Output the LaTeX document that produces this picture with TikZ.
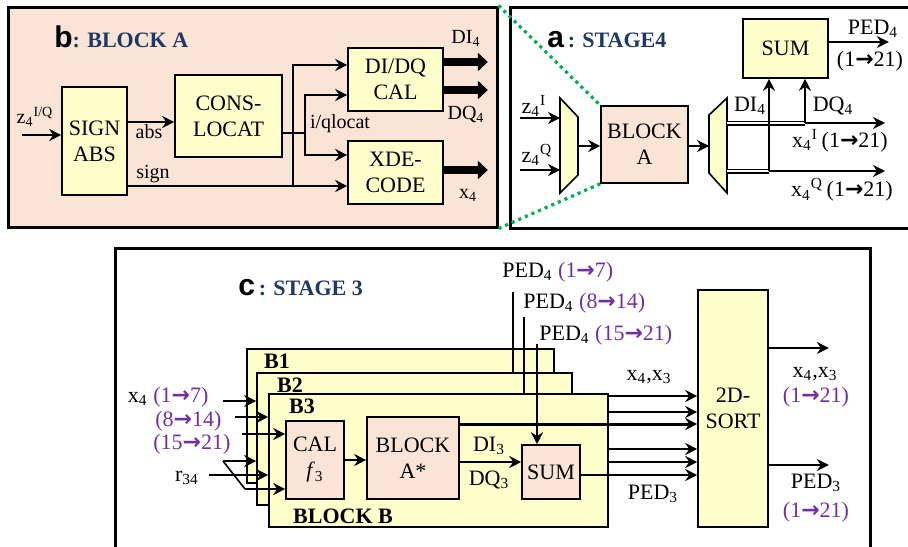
\documentclass[tikz,border=0pt]{standalone}
\usepackage{fontspec}
\setmainfont{Liberation Serif}
\newfontfamily\headsf{Liberation Sans}
\newfontfamily\arrfont{DejaVu Sans}
\usetikzlibrary{arrows.meta}
\definecolor{boxyel}{RGB}{255,255,204}
\definecolor{boxpch}{RGB}{250,228,213}
\definecolor{navy}{RGB}{31,56,100}
\definecolor{vio}{RGB}{112,48,160}
\definecolor{dotgrn}{RGB}{0,176,80}
\newcommand{\toarr}{{\arrfont\bfseries →}}
\newcommand{\subsup}[3]{#1\textsubscript{#2}\textsuperscript{#3}}
\newcommand{\hdr}[2]{{\headsf\bfseries\fontsize{15}{15}\selectfont #1}\textcolor{navy}{\bfseries\fontsize{11}{13}\selectfont #2}}
\begin{document}
\begin{tikzpicture}[x=0.5pt, y=-0.5pt,
    font=\fontsize{11}{13}\selectfont,
    ybox/.style={draw, line width=0.8pt, fill=boxyel, align=center, inner sep=0pt},
    pbox/.style={ybox, fill=boxpch},
    panel/.style={draw, line width=1.5pt, inner sep=0pt},
    arr/.style={line width=1.2pt, -{Stealth[length=6pt,width=6pt,inset=2pt]}},
    wire/.style={line width=1.2pt},
    bus/.style={line width=4pt, -{Triangle[length=5pt,width=9pt]}},
    dbl/.style={double, double distance=1.3pt, line width=0.6pt},
    zoomln/.style={dotgrn, line width=1.6pt, dotted},
    lab/.style={inner sep=0pt},
    small/.style={lab, font=\fontsize{10}{12}\selectfont},
    bold/.style={lab, font=\fontsize{11}{13}\selectfont\bfseries},
    ttl/.style={anchor=base west, inner sep=0pt}]
\useasboundingbox (0,0) rectangle (908,546);

% 图 b: BLOCK A
\node[panel, fill=boxpch, minimum width=244.5pt, minimum height=110pt] (pb) at (252.5,117) {};
\node[ttl] (tb) at (54,47) {\hdr{b}{: BLOCK A}};
\node[ybox, minimum width=32.5pt, minimum height=54pt] (sgn) at (94.5,141) {SIGN\\ABS};
\node[ybox, minimum width=53.5pt, minimum height=41pt] (cons) at (228.5,116) {CONS-\\LOCAT};
\node[ybox, minimum width=47.5pt, minimum height=31.5pt] (dqc) at (395.5,79.5) {DI/DQ\\CAL};
\node[ybox, minimum width=47.5pt, minimum height=31.5pt] (xde) at (395.5,172.5) {XDE-\\CODE};
% 连线
\coordinate (zin) at (22,135);
\draw[arr] (zin) -- (zin -| sgn.west);
\draw[arr] (sgn.east |- 0,122) -- (cons.west |- 0,122);
\draw[arr] (sgn.east |- 0,186) -- (xde.west |- 0,186);
\coordinate (jl) at (305,133);
\coordinate (js) at (293,186);
\draw[wire] (cons.east |- jl) -- (jl);
\draw[arr] (jl) |- (dqc.west |- 0,95);
\draw[arr] (jl) |- (xde.west |- 0,155);
\draw[arr] (js) |- (dqc.west |- 0,65);
% 总线输出
\draw[bus] (dqc.east |- 0,62) -- ++(44,0);
\draw[bus] (dqc.east |- 0,90) -- ++(44,0);
\draw[bus] (xde.east |- 0,170) -- ++(44,0);
% 标注
\node[small] (lz) at (35,117) {\subsup{z}{4}{I/Q}};
\node[small] (labs) at (149,132) {abs};
\node[small] (lsgn) at (153,174) {sign};
\node[small] (lloc) at (340,124) {i/qlocat};
\node[small] (ldi) at (466,38) {DI\textsubscript{4}};
\node[small] (ldq) at (466,114) {DQ\textsubscript{4}};
\node[small] (lx) at (468,195) {x\textsubscript{4}};

% 图 a: STAGE4
\node[panel, fill=white, minimum width=202.5pt, minimum height=110.5pt] (pa) at (712.5,117.5) {};
\node[ttl] (ta) at (547,47) {\hdr{a}{\,: STAGE4}};
\draw[line width=0.8pt, fill=boxyel] (560,98) -- (578,117) -- (578,175) -- (560,193) -- cycle;
\draw[line width=0.8pt, fill=boxyel] (709,115) -- (727,98) -- (727,193) -- (709,173) -- cycle;
\coordinate (mxl) at (560,146);
\coordinate (mxr) at (578,146);
\coordinate (dml) at (709,146);
\coordinate (dmr) at (727,146);
\node[pbox, minimum width=43.5pt, minimum height=38.5pt] (blka) at (644.5,144.5) {BLOCK\\A};
\node[ybox, minimum width=42.5pt, minimum height=29.5pt] (suma) at (785.5,48.5) {SUM};
\coordinate (zi) at (520,118);
\coordinate (zq) at (520,170);
\draw[arr] (zi) -- (zi -| mxl);
\draw[arr] (zq) -- (zq -| mxl);
\draw[arr] (mxr) -- (mxr -| blka.west);
\draw[arr] (blka.east |- dml) -- (dml);
% 双线与分支
\coordinate (dqj) at (805,123);
\coordinate (dij) at (769,171);
\draw[dbl] (dmr |- dqj) -- (dqj);
\draw[dbl] (dmr |- dij) -- (dij);
\draw[arr] (dqj) -- ++(80,0);
\draw[arr] (dij) -- ++(116,0);
\draw[arr] (dij) -- (dij |- suma.south);
\draw[arr] (dqj) -- (dqj |- suma.south);
\draw[arr] (suma.east |- 0,42) -- ++(60,0);
% 标注
\node[lab] (lped) at (873,29) {PED\textsubscript{4}};
\node[lab] (lrng) at (870,61) {(1\toarr21)};
\node[lab] (ldia) at (750,106) {DI\textsubscript{4}};
\node[lab] (ldqa) at (833,106) {DQ\textsubscript{4}};
\node[lab] (lxi) at (840,141) {\subsup{x}{4}{I}\,(1\toarr21)};
\node[lab] (lxq) at (842,190) {\subsup{x}{4}{Q}\,(1\toarr21)};
\node[lab] (lzi) at (534,106) {\subsup{z}{4}{I}};
\node[lab] (lzq) at (537,155) {\subsup{z}{4}{Q}};
% 放大虚线
\draw[zoomln] (pb.north east) -- (blka.north west);
\draw[zoomln] (pb.south east) -- (blka.south west);

% 图 c: STAGE 3
\node[panel, fill=white, minimum width=377.5pt, minimum height=151pt] (pc) at (492.5,399) {};
\node[ttl] (tc) at (238,295) {\hdr{c}{\,: STAGE 3}};
\node[ybox, minimum width=153.5pt, minimum height=67pt] (b1) at (400.5,416) {};
\node[ybox, minimum width=157.5pt, minimum height=66pt] (b2) at (414.5,439) {};
\node[ybox, minimum width=169.5pt, minimum height=66.5pt] (b3) at (438.5,460.5) {};
\node[bold] (lb1) at (277,361) {B1};
\node[bold] (lb2) at (290,385) {B2};
\node[bold] (lb3) at (302,406) {B3};
\node[bold] (lbb) at (343,516) {BLOCK B};
\node[pbox, minimum width=29pt, minimum height=39pt] (cal) at (315,460) {CAL\\\textit{f}\textsubscript{3}};
\node[pbox, minimum width=46pt, minimum height=41pt] (blks) at (413,458) {BLOCK\\A*};
\node[pbox, minimum width=29pt, minimum height=27pt] (sumc) at (551,472) {SUM};
\node[ybox, minimum width=35pt, minimum height=118.5pt] (sort) at (733,408.5) {2D-\\SORT};
% 内部连线
\draw[arr] (cal.east) -- (cal.east -| blks.west);
\draw[arr] (blks.east |- 0,462) -- (sumc.west |- 0,462);
\draw[arr, line width=1.5pt] (blks.east |- 0,424) -- (sort.west |- 0,424);
\draw[arr] (sumc.east |- 0,475) -- (sort.west |- 0,475);
\draw[arr] (b3.east |- 0,396) -- (sort.west |- 0,396);
\draw[arr] (b3.east |- 0,412) -- (sort.west |- 0,412);
\draw[arr] (b3.east |- 0,449) -- (sort.west |- 0,449);
\draw[arr] (b3.east |- 0,462) -- (sort.west |- 0,462);
\draw[arr] (sort.east |- 0,348) -- ++(60,0);
\draw[arr] (sort.east |- 0,465) -- ++(60,0);
% PED4 输入
\coordinate (p1) at (513,292);
\coordinate (p2) at (524,317);
\coordinate (p3) at (537,344);
\draw[line width=0.9pt] (p1) -- (p1 |- b2.north);
\draw[line width=0.9pt] (p2) -- (p2 |- b3.north);
\draw[arr, line width=1.4pt] (p3) -- (p3 |- sumc.north);
% 左侧输入
\coordinate (xa) at (223,401);
\coordinate (xb) at (235,417);
\coordinate (xc) at (242,434);
\draw[arr] (xa) -- (xa -| b2.west);
\draw[arr] (xb) -- (xb -| b3.west);
\draw[arr] (xc) -- (xc -| cal.west);
\coordinate (ra) at (209,475);
\coordinate (rb) at (223,461);
\coordinate (rc) at (245,489);
\draw[arr] (ra) -- (ra -| b3.west);
\draw[arr] (rb) -- (rb -| b2.west);
\draw[wire, line width=0.8pt] (rb) -- (rc);
\draw[arr] (rc) -- (rc -| cal.west);
% 标注
\node[lab, anchor=east] (lx4) at (148,399) {x\textsubscript{4}};
\node[lab, anchor=west, text=vio] (lr1) at (153,397) {(1\toarr7)};
\node[lab, anchor=west, text=vio] (lr2) at (155,421) {(8\toarr14)};
\node[lab, anchor=west, text=vio] (lr3) at (153,444) {(15\toarr21)};
\node[lab] (lr34) at (187,478) {r\textsubscript{34}};
\node[lab, anchor=west] (lp1) at (502,272) {PED\textsubscript{4} \textcolor{vio}{(1\toarr7)}};
\node[lab, anchor=west] (lp2) at (523,303) {PED\textsubscript{4} \textcolor{vio}{(8\toarr14)}};
\node[lab, anchor=west] (lp3) at (539,335) {PED\textsubscript{4} \textcolor{vio}{(15\toarr21)}};
\node[lab] (ldi3) at (489,446) {DI\textsubscript{3}};
\node[lab] (ldq3) at (489,480) {DQ\textsubscript{3}};
\node[lab] (lxx) at (649,377) {x\textsubscript{4},x\textsubscript{3}};
\node[lab] (lped3) at (653,494) {PED\textsubscript{3}};
\node[lab] (lxo) at (815,374) {x\textsubscript{4},x\textsubscript{3}};
\node[lab, text=vio] (lxr) at (816,397) {(1\toarr21)};
\node[lab] (lpo) at (816,483) {PED\textsubscript{3}};
\node[lab, text=vio] (lpr) at (816,512) {(1\toarr21)};
\end{tikzpicture}
\end{document}
